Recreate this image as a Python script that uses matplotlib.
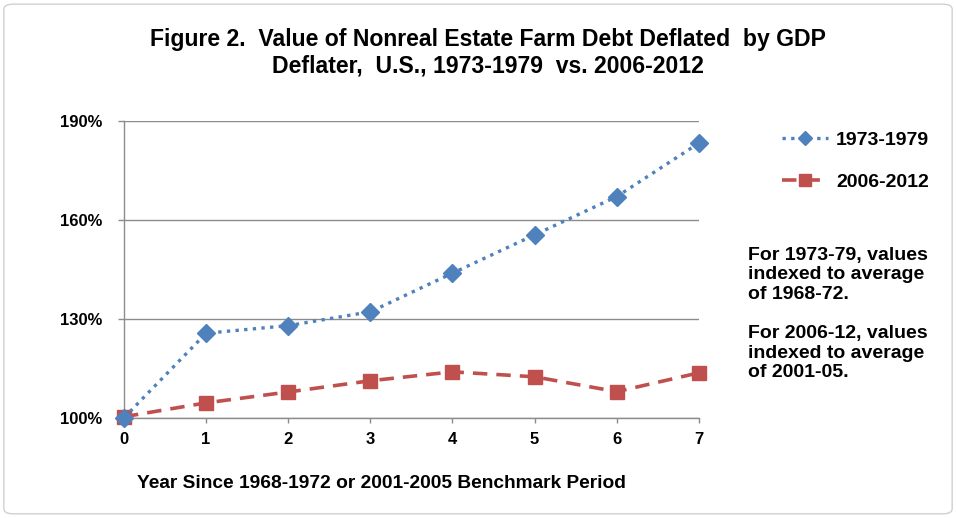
import matplotlib
matplotlib.use("Agg")
import matplotlib.pyplot as plt
from matplotlib.patches import FancyBboxPatch
from matplotlib.ticker import FuncFormatter

years = [0, 1, 2, 3, 4, 5, 6, 7]
series_1973 = [100.0, 125.6, 127.9, 132.1, 143.8, 155.4, 167.0, 183.2]
series_2006 = [100.3, 104.5, 107.8, 111.2, 113.9, 112.4, 107.9, 113.6]
label_1973 = "1973-1979"
label_2006 = "2006-2012"
y_ticks = [100, 130, 160, 190]

title_line1 = "Figure 2.  Value of Nonreal Estate Farm Debt Deflated  by GDP"
title_line2 = "Deflater,  U.S., 1973-1979  vs. 2006-2012"
xlabel = "Year Since 1968-1972 or 2001-2005 Benchmark Period"
note1 = "For 1973-79, values\nindexed to average\nof 1968-72."
note2 = "For 2006-12, values\nindexed to average\nof 2001-05."

plt.rcParams['font.family'] = ['Liberation Sans', 'DejaVu Sans']

fig = plt.figure(figsize=(9.56, 5.18), dpi=100)
ax = fig.add_axes([0.1297, 0.1936, 0.6013, 0.5734])

blue = "#4F81BD"
red = "#C0504D"

ax.plot(years, series_2006, color=red, linestyle=(0, (4, 2.5)), linewidth=2.6,
        marker='s', markersize=10.5, markerfacecolor=red, markeredgecolor=red,
        label=label_2006, zorder=3)
ax.plot(years, series_1973, color=blue, linestyle=(0, (1, 1.6)), linewidth=2.4,
        marker='D', markersize=9, markerfacecolor=blue, markeredgecolor=blue,
        label=label_1973, zorder=4)

ax.set_xlim(0, 7)
ax.set_ylim(100, 190)
ax.set_yticks(y_ticks)
ax.set_xticks(years)
ax.yaxis.set_major_formatter(FuncFormatter(lambda v, p: f"{int(v)}%"))
ax.grid(axis='y', color='#8c8c8c', linewidth=1.0)
ax.set_axisbelow(True)
for s in ['top', 'right']:
    ax.spines[s].set_visible(False)
for s in ['left', 'bottom']:
    ax.spines[s].set_color('#8c8c8c')
    ax.spines[s].set_linewidth(1.0)
ax.tick_params(axis='y', colors='#8c8c8c', length=4.5, width=1.0, direction='out', pad=11)
ax.tick_params(axis='x', colors='#8c8c8c', length=3.5, width=1.0, direction='out', pad=7)
for lbl in ax.get_xticklabels() + ax.get_yticklabels():
    lbl.set_color('black')
    lbl.set_fontweight('bold')
    lbl.set_fontsize(12)
ax.margins(0)
for line in ax.get_lines():
    line.set_clip_on(False)

handles, labels = ax.get_legend_handles_labels()
leg = fig.legend(handles[::-1], labels[::-1], loc='upper left',
                 bbox_to_anchor=(0.818, 0.747), frameon=False,
                 prop={'weight': 'bold', 'size': 14}, handlelength=2.36,
                 labelspacing=1.25, handletextpad=0.42, markerscale=0.8,
                 borderpad=0, borderaxespad=0)

fig.text(0.51, 0.9112, title_line1, ha='center', va='baseline', fontsize=16.6, fontweight='bold')
fig.text(0.51, 0.861, title_line2, ha='center', va='baseline', fontsize=16.6, fontweight='bold')
fig.text(0.782, 0.523, note1, ha='left', va='top', fontsize=14, fontweight='bold', linespacing=1.18)
fig.text(0.782, 0.372, note2, ha='left', va='top', fontsize=14, fontweight='bold', linespacing=1.18)
fig.text(0.1433, 0.058, xlabel, ha='left', va='baseline', fontsize=13.8, fontweight='bold')

border = FancyBboxPatch((0.004, 0.008), 0.992, 0.984, boxstyle="round,pad=0,rounding_size=0.01",
                        transform=fig.transFigure, fill=False, edgecolor='#d0d0d0', linewidth=1.0)
fig.patches.append(border)

fig.savefig("out.png", dpi=100)
